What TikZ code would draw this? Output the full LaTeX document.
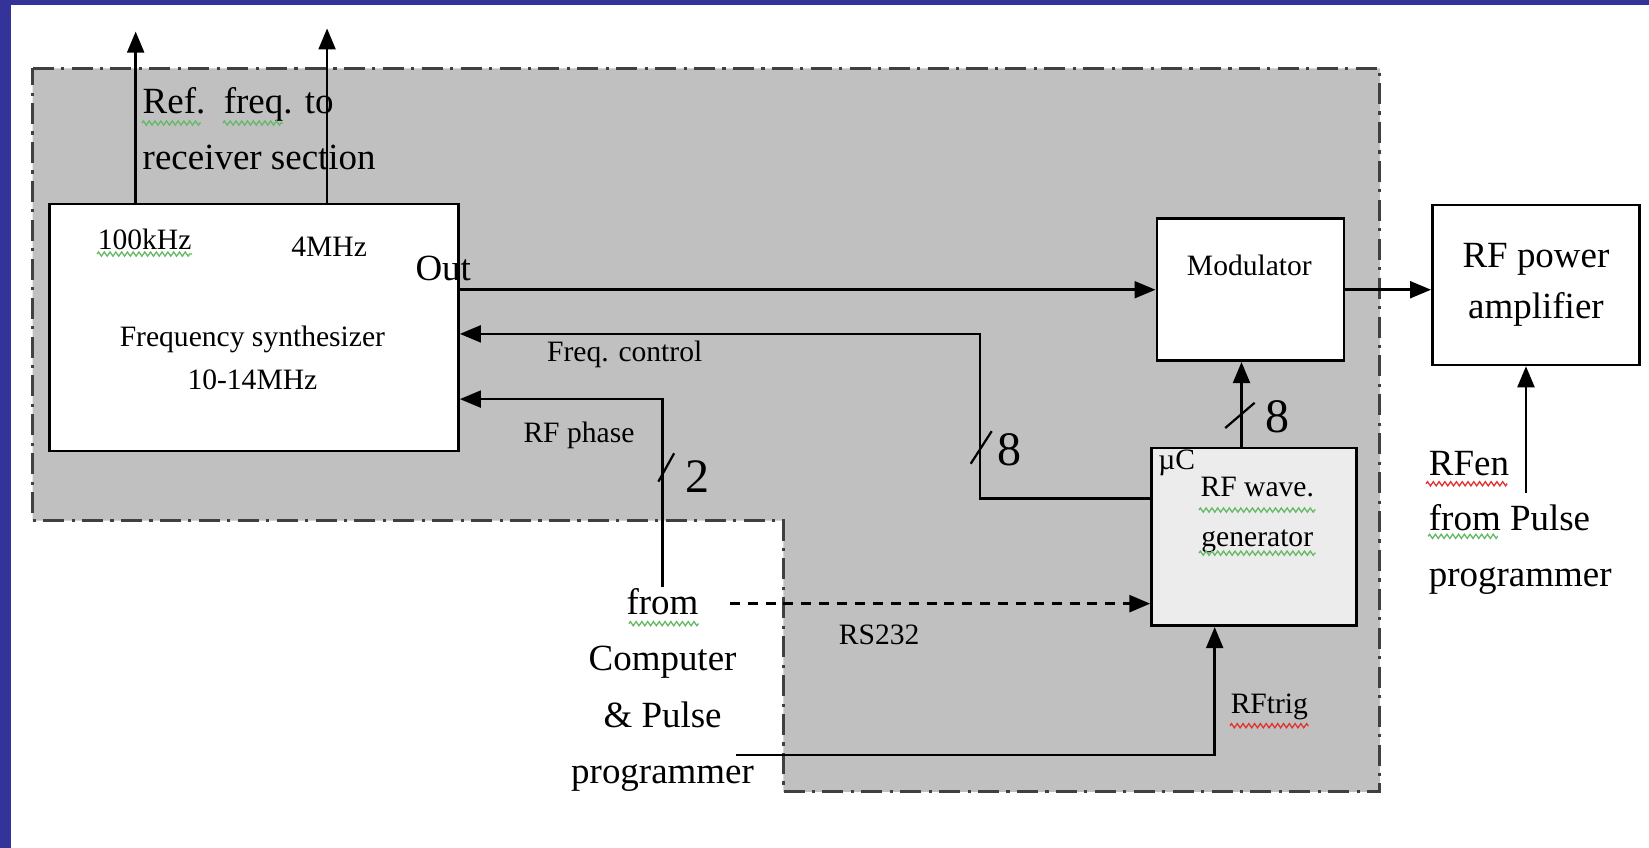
\documentclass[tikz,border=0pt]{standalone}
\usepackage{fontspec}
\setmainfont{Liberation Serif}
\usetikzlibrary{arrows.meta,positioning,calc,decorations.pathmorphing}
\definecolor{panelgray}{RGB}{192,192,192}
\definecolor{slideblue}{RGB}{51,51,153}
\definecolor{genfill}{RGB}{236,236,236}
\definecolor{spellgreen}{RGB}{100,185,100}
\definecolor{spellred}{RGB}{225,50,50}

\begin{document}
\begin{tikzpicture}[
    blk/.style={draw, fill=white, line width=0.7pt, inner sep=0pt},
    sig/.style={line width=0.7pt, -{Triangle[length=2mm, width=1.6mm]}},
    small/.style={inner sep=0pt, font=\fontsize{8}{11.6}\selectfont},
    big/.style={inner sep=0pt, font=\fontsize{10}{15.3}\selectfont},
    busnum/.style={inner sep=0pt, font=\fontsize{13}{13}\selectfont},
    squig/.style={decorate, decoration={zigzag, amplitude=0.2mm, segment length=0.55mm}, line width=0.35pt}
]
\useasboundingbox (0,0) rectangle (15.68,-8.06);
\fill[white] (0,0) rectangle (15.68,-8.06);
\fill[slideblue] (0,0) rectangle (15.68,-0.05);
\fill[slideblue] (0,0) rectangle (0.105,-8.06);

% Shaded transmitter section
\draw[fill=panelgray, draw=black!75, line width=0.8pt, dash pattern=on 2mm off 0.7mm on 0.3mm off 0.7mm]
  (0.31,-0.65) -- (13.12,-0.65) -- (13.12,-7.53) -- (7.45,-7.53) -- (7.45,-4.95) -- (0.31,-4.95) -- cycle;

% Blocks
\node[blk, minimum width=3.89cm, minimum height=2.35cm] (synth) at (2.415,-3.115) {};
\node[blk, minimum width=1.78cm, minimum height=1.35cm] (mod) at (11.89,-2.755) {};
\node[blk, minimum width=1.97cm, minimum height=1.52cm] (pa) at (14.605,-2.71) {};
\node[blk, fill=genfill, minimum width=1.95cm, minimum height=1.69cm] (gen) at (11.925,-5.105) {};

% Block texts
\node[small, align=center] (synthlbl) at (2.40,-3.405) {Frequency synthesizer\\10-14MHz};
\node[small] (k100) at (1.375,-2.28) {100kHz};
\node[small] (m4) at (3.13,-2.35) {4MHz};
\node[big] (outlbl) at (4.215,-2.55) {Out};
\node[big, anchor=west, align=left] (reflbl) at (1.35,-1.225) {Ref.\ \ freq. to\\receiver section};
\node[small] (modlbl) at (11.88,-2.52) {Modulator};
\node[big, align=center, font=\fontsize{10}{13.9}\selectfont] (palbl) at (pa) {RF power\\amplifier};
\node[small, align=center, font=\fontsize{8}{13.4}\selectfont] (genlbl) at (11.955,-4.895) {RF wave.\\generator};
\node[small] (uc) at (11.19,-4.40) {µC};

% Signal labels
\node[small] (fclbl) at (5.94,-3.37) {Freq. control};
\node[small] (phlbl) at (5.505,-4.14) {RF phase};
\node[small] (rslbl) at (8.36,-6.04) {RS232};
\node[small] (trlbl) at (12.07,-6.72) {RFtrig};
\node[big, align=center] (src) at (6.30,-6.56) {from\\Computer\\\& Pulse\\programmer};
\node[big, anchor=west, align=left, font=\fontsize{10}{15}\selectfont] (enlbl) at (13.58,-4.97) {RFen\\from Pulse\\programmer};

% Bus widths
\node[busnum] (n8a) at (9.60,-4.28) {8};
\node[busnum] (n8b) at (12.15,-3.96) {8};
\node[busnum] (n2) at (6.63,-4.53) {2};
\draw[line width=0.6pt] (9.23,-4.41) -- (9.43,-4.10);
\draw[line width=0.6pt] (11.65,-4.07) -- (11.93,-3.83);
\draw[line width=0.6pt] (6.26,-4.58) -- (6.41,-4.31);

% Connectors
\coordinate (ref1) at (1.29,-0.30);
\coordinate (ref2) at (3.11,-0.27);
\coordinate (fcbend) at (9.32,-4.74);
\coordinate (rsin) at (6.94,-5.74);
\coordinate (trig) at (7.00,-7.18);
\coordinate (en) at (14.51,-4.69);

\draw[sig] (synth.north -| ref1) -- (ref1);
\draw[sig] (synth.north -| ref2) -- (ref2);
\draw[sig] (synth.east |- mod.west) -- (mod.west);
\draw[sig] (mod.east) -- (mod.east -| pa.west);
\draw[sig] (gen.west |- fcbend) -- (fcbend) |- ([yshift=-0.06cm]synth.east);
\draw[sig] (src.north) |- ([yshift=-0.68cm]synth.east);
\draw[sig, line width=0.9pt, dash pattern=on 0.95mm off 0.75mm] (rsin) -- (gen.west |- rsin);
\draw[sig] (trig) -| ([xshift=-0.375cm]gen.south);
\draw[sig] ([xshift=-0.12cm]gen.north) -- ([xshift=-0.12cm]gen.north |- mod.south);
\draw[sig] (en) -- (en |- pa.south);

% Spell-check marks
\draw[squig, spellgreen] (1.35,-1.17) -- (1.91,-1.17);
\draw[squig, spellgreen] (2.12,-1.17) -- (2.69,-1.17);
\draw[squig, spellgreen] ([yshift=-0.3mm]k100.south west) -- ([yshift=-0.3mm]k100.south east);
\draw[squig, spellgreen] (11.40,-4.85) -- (12.51,-4.85);
\draw[squig, spellgreen] (11.40,-5.26) -- (12.51,-5.26);
\draw[squig, spellred] (13.56,-4.60) -- (14.33,-4.60);
\draw[squig, spellgreen] (13.58,-5.10) -- (14.24,-5.10);
\draw[squig, spellgreen] (5.98,-5.93) -- (6.64,-5.93);
\draw[squig, spellred] ([yshift=-0.5mm]trlbl.south west) -- ([yshift=-0.5mm]trlbl.south east);
\end{tikzpicture}
\end{document}
